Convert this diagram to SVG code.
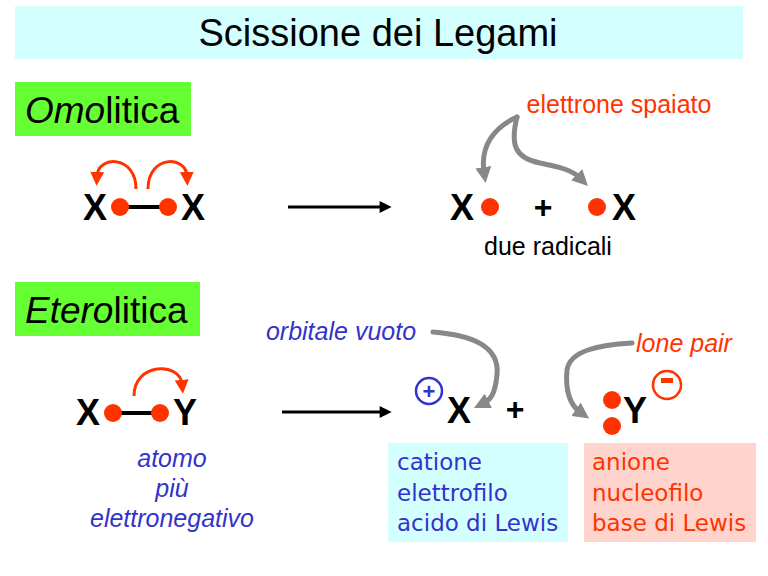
<svg xmlns="http://www.w3.org/2000/svg" width="768" height="576" viewBox="0 0 768 576">
<style>
.sans{font-family:"Liberation Sans",Arial,sans-serif}
.atom{font-family:"Liberation Sans",Arial,sans-serif;font-weight:bold;font-size:36px;fill:#000}
.dot{fill:#ff3300}
.red{fill:#ff3300}
.blue{fill:#3333cc}
.comic{font-family:"DejaVu Sans",sans-serif;font-size:23px}
.gray{fill:none;stroke:#888888;stroke-width:5;stroke-linecap:round}
.redarc{fill:none;stroke:#ff3300;stroke-width:3}
.bond{stroke:#000;stroke-width:4}
.long{stroke:#000;stroke-width:3}
</style>
<defs>
<marker id="ahRed" viewBox="0 0 10 10" refX="3" refY="5" markerWidth="14" markerHeight="14" markerUnits="userSpaceOnUse" orient="auto"><path d="M0,0 L10,5 L0,10 z" fill="#ff3300"/></marker>
<marker id="ahBlack" viewBox="0 0 10 10" refX="2" refY="5" markerWidth="15" markerHeight="12" markerUnits="userSpaceOnUse" orient="auto"><path d="M0,0 L10,5 L0,10 z" fill="#000"/></marker>
<marker id="ahGray" viewBox="0 0 10 10" refX="3" refY="5" markerWidth="16" markerHeight="16" markerUnits="userSpaceOnUse" orient="auto"><path d="M0,0 L10,5 L0,10 z" fill="#888888"/></marker>
</defs>

<g id="title">
<rect x="15" y="6" width="728" height="53" fill="#d4ffff"/>
<text x="378" y="46" text-anchor="middle" class="sans" font-size="38">Scissione dei Legami</text>
</g>

<g id="omolitica-label">
<rect x="15" y="82" width="176" height="54" fill="#66ff33"/>
<text x="25" y="123" class="sans" font-size="37"><tspan font-style="italic">Omo</tspan>litica</text>
</g>

<g id="homolytic-reactant">
<line x1="120" y1="207" x2="168" y2="207" class="bond"/>
<circle cx="120" cy="207" r="9" class="dot"/>
<circle cx="168" cy="207" r="9" class="dot"/>
<text x="95" y="220" text-anchor="middle" class="atom">X</text>
<text x="193" y="220" text-anchor="middle" class="atom">X</text>
<path d="M136,189 C136,155 98,155 97,176" class="redarc" marker-end="url(#ahRed)"/>
<path d="M148,189 C148,155 186,155 187,176" class="redarc" marker-end="url(#ahRed)"/>
</g>

<g id="homolytic-products">
<text x="462" y="220" text-anchor="middle" class="atom">X</text>
<circle cx="490" cy="207" r="9" class="dot"/>
<text x="543" y="218" text-anchor="middle" class="sans" font-weight="bold" font-size="32">+</text>
<circle cx="597" cy="207" r="9" class="dot"/>
<text x="624" y="220" text-anchor="middle" class="atom">X</text>
<text x="548" y="255" text-anchor="middle" class="sans" font-size="25">due radicali</text>
<text x="619" y="113" text-anchor="middle" class="sans red" font-size="25">elettrone spaiato</text>
</g>

<g id="eterolitica-label">
<rect x="15" y="282" width="185" height="54" fill="#66ff33"/>
<text x="25" y="323" class="sans" font-size="37"><tspan font-style="italic">Etero</tspan>litica</text>
</g>

<g id="heterolytic-reactant">
<line x1="113" y1="413" x2="160" y2="413" class="bond"/>
<circle cx="113" cy="413" r="9" class="dot"/>
<circle cx="160" cy="413" r="9" class="dot"/>
<text x="88" y="425" text-anchor="middle" class="atom">X</text>
<text x="185" y="425" text-anchor="middle" class="atom">Y</text>
<path d="M134,396 C134,362 180,362 182,384" class="redarc" marker-end="url(#ahRed)"/>
<text x="172" y="467" text-anchor="middle" class="sans blue" font-style="italic" font-size="25">atomo</text>
<text x="172" y="497" text-anchor="middle" class="sans blue" font-style="italic" font-size="25">più</text>
<text x="172" y="527" text-anchor="middle" class="sans blue" font-style="italic" font-size="25">elettronegativo</text>
</g>

<g id="cation">
<circle cx="429" cy="391" r="13" fill="none" stroke="#3333cc" stroke-width="2.5"/>
<text x="429" y="399" text-anchor="middle" class="sans blue" font-weight="bold" font-size="22">+</text>
<text x="459" y="423" text-anchor="middle" class="atom">X</text>
<text x="341" y="340" text-anchor="middle" class="sans blue" font-style="italic" font-size="25">orbitale vuoto</text>
</g>

<text x="515" y="420" text-anchor="middle" class="sans" font-weight="bold" font-size="32">+</text>

<g id="anion">
<circle cx="612" cy="400" r="9" class="dot"/>
<circle cx="612" cy="426" r="9" class="dot"/>
<text x="635" y="423" text-anchor="middle" class="atom">Y</text>
<circle cx="667" cy="385" r="14" fill="none" stroke="#ff3300" stroke-width="2.5"/>
<rect x="661" y="378" width="12" height="5" fill="#ff3300"/>
<text x="684" y="352" text-anchor="middle" class="sans red" font-style="italic" font-size="25">lone pair</text>
</g>

<g id="box-cation">
<rect x="388" y="443" width="180" height="99" fill="#d4ffff"/>
<text x="397" y="470" class="comic blue">catione</text>
<text x="397" y="501" class="comic blue">elettrofilo</text>
<text x="397" y="531" class="comic blue">acido di Lewis</text>
</g>

<g id="box-anion">
<rect x="584" y="443" width="172" height="99" fill="#ffd4cc"/>
<text x="592" y="470" class="comic red">anione</text>
<text x="592" y="501" class="comic red">nucleofilo</text>
<text x="592" y="531" class="comic red">base di Lewis</text>
</g>

<g id="connectors">
<line x1="288" y1="207" x2="382" y2="207" class="long" marker-end="url(#ahBlack)"/>
<line x1="282" y1="412" x2="382" y2="412" class="long" marker-end="url(#ahBlack)"/>
<path d="M517,117 C495,127 480,145 484,172" class="gray" marker-end="url(#ahGray)"/>
<path d="M517,117 C510,145 515,158 540,163 C560,167 572,170 580,178" class="gray" marker-end="url(#ahGray)"/>
<path d="M433,332 C470,335 500,345 497,375 C495,395 490,400 484,403" class="gray" marker-end="url(#ahGray)"/>
<path d="M632,343 C600,345 570,350 567,370 C565,390 570,405 580,412" class="gray" marker-end="url(#ahGray)"/>
</g>
</svg>
